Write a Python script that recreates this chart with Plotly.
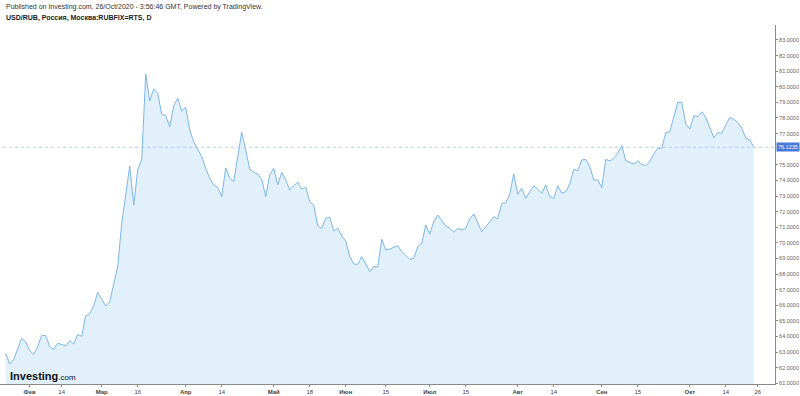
import plotly.graph_objects as go

# USD/RUB RUBFIX daily values (trading-day index 0..187)
values_part1 = [62.92, 62.23, 62.53, 63.21, 63.88, 63.66, 63.08, 62.85, 63.34, 64.07,
                64.05, 63.34, 63.17, 63.56, 63.49, 63.40, 63.72, 63.51, 64.13, 64.00,
                65.33, 65.44, 65.97, 66.83, 66.38, 65.95, 66.23, 67.44, 68.47, 71.25,
                72.96, 74.92, 72.42, 74.67, 75.37, 80.82, 79.09, 79.86, 79.58, 78.26,
                78.15, 77.44, 78.79, 79.26, 78.45, 78.69, 77.23, 76.48]
values_part2 = [76.00, 75.52, 74.77, 74.13, 73.71, 73.56, 72.96, 74.81, 74.13, 73.92,
                75.52, 77.08, 75.95, 74.71, 74.52, 74.41, 74.07, 72.96, 74.35, 74.78,
                73.71, 74.52, 74.03, 73.38, 73.66, 73.88, 73.45, 73.56, 72.64, 72.42,
                71.08, 70.93, 71.57, 71.63, 70.76, 70.93, 70.44, 70.12, 69.11, 68.64,
                68.62, 69.11, 68.64, 68.15, 68.47, 68.45, 70.22]
values_part3 = [69.54, 69.60, 69.69, 69.82, 69.43, 69.15, 68.94, 69.00, 69.75, 69.97,
                71.14, 70.55, 71.35, 71.78, 71.42, 71.08, 70.93, 70.67, 70.93, 70.82,
                70.93, 71.53, 71.85, 71.25, 70.71, 71.03, 71.35, 71.67, 71.53, 72.53,
                72.57, 73.11, 74.41, 73.11, 73.49, 72.85, 73.28, 73.66, 73.43, 73.17,
                73.71, 72.96, 72.85, 73.66, 73.17, 73.28, 73.77, 74.71]
values_part4 = [74.62, 75.31, 75.35, 74.88, 74.03, 74.03, 73.54, 75.35, 75.24, 75.42,
                75.74, 76.23, 75.26, 75.16, 75.05, 75.24, 75.03, 74.94, 75.20, 75.69,
                76.06, 76.06, 77.06, 77.12, 78.04, 79.00, 79.00, 77.60, 77.29, 78.15,
                78.08, 78.40, 78.04, 77.40, 76.74, 77.06, 77.02, 77.55, 78.04, 77.92,
                77.72, 77.34, 76.70, 76.59, 76.1235]
values = values_part1 + values_part2 + values_part3 + values_part4
day_index = list(range(len(values)))

tick_days = [6, 14, 24, 33, 45, 54, 67, 76, 85, 95, 106, 115, 128, 137, 149, 158, 171, 180, 188]
tick_labels = ["<b>Фев</b>", "14", "<b>Мар</b>", "16", "<b>Апр</b>", "14", "<b>Май</b>", "18",
               "<b>Июн</b>", "15", "<b>Июл</b>", "15", "<b>Авг</b>", "14", "<b>Сен</b>", "15",
               "<b>Окт</b>", "14", "26"]
# 76.0000 is hidden behind the last-price label in the original
y_ticks = [61, 62, 63, 64, 65, 66, 67, 68, 69, 70, 71, 72, 73, 74, 75, 77, 78, 79, 80, 81, 82, 83]
last_value = values[-1]

FONT = "Liberation Sans, Arial, sans-serif"

fig = go.Figure()
fig.add_trace(go.Scatter(
    x=day_index, y=values, mode="lines",
    line=dict(color="#7db6ea", width=1),
    fill="tozeroy", fillcolor="#e1f0fa",
    hoverinfo="skip", showlegend=False,
))

fig.add_shape(type="line", xref="paper", x0=0.004, x1=1, yref="y",
              y0=last_value, y1=last_value,
              line=dict(color="#b3c7f2", width=1, dash="dot"))

fig.add_annotation(xref="paper", x=1.0, yref="y", y=last_value,
                   text=f"{last_value:.4f}", showarrow=False, xanchor="left",
                   font=dict(family=FONT, size=5.5, color="white"),
                   bgcolor="#4a78d8", borderpad=1, xshift=1)

fig.add_annotation(xref="paper", yref="paper", x=0.005, y=1.05,
                   text="Published on Investing.com, 26/Oct/2020 - 3:56:46 GMT, Powered by TradingView.",
                   showarrow=False, xanchor="left", yanchor="middle",
                   font=dict(family=FONT, size=7, color="#333333"))
fig.add_annotation(xref="paper", yref="paper", x=0.005, y=1.0195,
                   text="<b>USD/RUB, Россия, Москва:RUBFIX=RTS, D</b>",
                   showarrow=False, xanchor="left", yanchor="middle",
                   font=dict(family=FONT, size=7, color="#222222"))
fig.add_annotation(xref="paper", yref="paper", x=0.01, y=0.022,
                   text="<b>Investing</b><span style='font-size:8px'>.com</span>",
                   showarrow=False, xanchor="left", yanchor="middle",
                   font=dict(family=FONT, size=11, color="#111111"))

fig.update_layout(
    width=800, height=396,
    margin=dict(l=0, r=25, t=25, b=12, autoexpand=False),
    paper_bgcolor="white", plot_bgcolor="white",
    font=dict(family=FONT, size=6, color="#555555"),
    xaxis=dict(range=[-1.425, 192.3], tickvals=tick_days, ticktext=tick_labels,
               showgrid=False, zeroline=False, showline=True, linecolor="#8a8a8a",
               ticks="outside", ticklen=2, tickcolor="#8a8a8a",
               tickfont=dict(family=FONT, size=6, color="#444444"), automargin=False),
    yaxis=dict(range=[60.95, 83.96], side="right", tickvals=y_ticks, tickformat=".4f",
               showgrid=False, zeroline=False, showline=True, linecolor="#8a8a8a",
               ticks="outside", ticklen=2, tickcolor="#8a8a8a",
               tickfont=dict(family=FONT, size=5.5, color="#666666"), automargin=False),
)

fig.write_html("out.html")
